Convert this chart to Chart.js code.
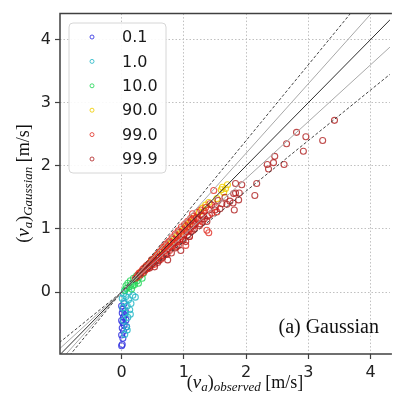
<!DOCTYPE html>
<html><head><meta charset="utf-8">
<script src="https://cdn.jsdelivr.net/npm/chart.js@4/dist/chart.umd.min.js"></script>
<style>html,body{margin:0;padding:0;background:#fff;}#wrap{width:395px;height:398px;}</style>
</head><body><div id="wrap"><canvas id="c" width="395" height="398"></canvas></div>
<script>
// ---- data ----
const seriesLabels = ['0.1', '1.0', '10.0', '90.0', '99.0', '99.9'];
const seriesColors = ['rgba(50,50,225,0.85)', 'rgba(40,185,200,0.85)', 'rgba(40,215,90,0.85)', 'rgba(240,205,0,0.85)', 'rgba(225,45,35,0.8)', 'rgba(175,30,30,0.8)'];

const p01X = [0.00, 0.01, 0.02, 0.00, 0.03, 0.01, 0.04, 0.02, 0.00, 0.03, 0.05, 0.01, 0.06, 0.02, 0.00, 0.04, 0.08, 0.07];
const p01Y = [-0.85, -0.83, -0.73, -0.68, -0.62, -0.57, -0.52, -0.48, -0.45, -0.40, -0.36, -0.33, -0.30, -0.27, -0.22, -0.18, -0.55, -0.44];

const p1X = [0.05, 0.08, 0.03, 0.10, 0.06, 0.13, 0.02, 0.09, 0.15, 0.04, 0.11, 0.01, 0.07, 0.18, 0.03, 0.12, 0.05, 0.22, 0.09, 0.14];
const p1Y = [-0.67, -0.55, -0.45, -0.40, -0.33, -0.28, -0.25, -0.22, -0.18, -0.15, -0.12, -0.10, -0.07, -0.05, -0.03, 0.00, 0.02, -0.08, -0.60, -0.35];

const p10X = [0.05, 0.08, 0.12, 0.15, 0.10, 0.18, 0.20, 0.22, 0.25, 0.14, 0.28, 0.30, 0.24, 0.33, 0.19, 0.07, 0.27, 0.35, 0.16, 0.21];
const p10Y = [0.03, 0.06, 0.08, 0.12, 0.14, 0.10, 0.16, 0.20, 0.18, 0.18, 0.24, 0.27, 0.26, 0.22, 0.22, 0.10, 0.14, 0.30, 0.05, 0.12];

const p90X = [0.30, 0.38, 0.45, 0.55, 0.62, 0.70, 0.80, 0.90, 1.00, 1.10, 1.25, 1.40, 1.53, 1.60, 1.64, 1.70, 0.50, 0.85, 0.40, 0.58, 0.66, 0.75, 0.95, 1.05, 1.15, 1.30, 1.35, 1.62, 1.67];
const p90Y = [0.31, 0.39, 0.46, 0.56, 0.63, 0.71, 0.81, 0.91, 1.01, 1.11, 1.27, 1.42, 1.48, 1.62, 1.58, 1.70, 0.51, 0.86, 0.41, 0.59, 0.67, 0.76, 0.96, 1.06, 1.17, 1.33, 1.38, 1.66, 1.64];

const p99X = [0.25, 0.28, 0.30, 0.32, 0.35, 0.36, 0.38, 0.40, 0.42, 0.44, 0.45, 0.47, 0.50, 0.52, 0.53, 0.55, 0.57, 0.58, 0.60, 0.62, 0.63, 0.65, 0.67, 0.68, 0.70, 0.72, 0.73, 0.75, 0.77, 0.78, 0.80, 0.82, 0.83, 0.85, 0.87, 0.88, 0.90, 0.92, 0.93, 0.95, 0.97, 0.98, 1.00, 1.02, 1.03, 1.05, 1.07, 1.09, 1.10, 1.12, 1.14, 1.15, 1.18, 1.20, 1.22, 1.25, 1.28, 1.30, 1.33, 1.37, 1.40, 1.40, 1.45, 1.48, 1.51, 1.53,
  0.22, 0.26, 0.29, 0.31, 0.34, 0.37, 0.39, 0.41, 0.43, 0.46, 0.48, 0.49, 0.51, 0.54, 0.56, 0.59, 0.61, 0.64, 0.66, 0.69, 0.71, 0.74, 0.76, 0.79, 0.81, 0.84, 0.86, 0.89, 0.91, 0.94, 0.96, 0.99, 1.01, 1.04, 1.06, 1.08, 1.11, 1.13, 1.16, 1.19, 1.21, 1.24, 1.27, 1.31, 1.35, 1.38, 1.42];
const p99Y = [0.24, 0.30, 0.27, 0.33, 0.31, 0.38, 0.35, 0.42, 0.38, 0.45, 0.40, 0.48, 0.46, 0.53, 0.44, 0.55, 0.50, 0.60, 0.54, 0.63, 0.52, 0.66, 0.58, 0.70, 0.62, 0.74, 0.60, 0.72, 0.66, 0.80, 0.70, 0.84, 0.74, 0.78, 0.90, 0.72, 0.82, 0.95, 0.80, 0.88, 1.00, 0.84, 0.92, 1.05, 0.74, 0.95, 1.10, 0.88, 1.00, 1.14, 1.24, 0.98, 1.08, 1.18, 1.15, 1.05, 1.22, 1.11, 1.28, 0.98, 0.94, 1.30, 1.25, 1.61, 1.35, 1.27,
  0.22, 0.27, 0.29, 0.30, 0.36, 0.34, 0.40, 0.37, 0.44, 0.42, 0.51, 0.43, 0.49, 0.50, 0.58, 0.55, 0.64, 0.57, 0.71, 0.65, 0.76, 0.68, 0.80, 0.72, 0.86, 0.77, 0.92, 0.80, 0.97, 0.84, 1.03, 0.90, 1.07, 0.96, 1.12, 1.00, 1.17, 1.05, 1.20, 1.10, 1.26, 1.13, 1.30, 1.22, 1.34, 1.20, 1.40];

const p999X = [0.53, 0.60, 0.74, 0.80, 0.95, 1.03, 1.09, 1.15, 1.22, 1.30, 1.37, 1.45, 1.61, 1.69, 1.79, 1.80, 1.81, 1.83, 1.88, 1.83, 1.89, 1.93, 2.14, 2.17, 2.34, 2.36, 2.44, 2.46, 2.61, 2.65, 2.81, 2.92, 2.96, 3.23, 3.42,
  0.45, 0.58, 0.66, 0.71, 0.86, 0.91, 0.99, 1.06, 1.12, 1.17, 1.26, 1.33, 1.41, 1.50, 1.55, 1.58, 1.66, 1.74];
const p999Y = [0.40, 0.50, 0.51, 0.62, 0.66, 0.80, 0.88, 1.05, 1.15, 1.20, 1.12, 1.38, 1.40, 1.39, 1.41, 1.56, 1.30, 1.72, 1.46, 1.57, 1.57, 1.70, 1.53, 1.72, 2.02, 1.95, 2.05, 2.15, 2.02, 2.35, 2.53, 2.23, 2.46, 2.40, 2.72,
  0.38, 0.47, 0.55, 0.60, 0.70, 0.74, 0.82, 0.90, 0.96, 1.00, 1.08, 1.16, 1.22, 1.30, 1.45, 1.32, 1.50, 1.44];

const seriesX = [p01X, p1X, p10X, p90X, p99X, p999X];
const seriesY = [p01Y, p1Y, p10Y, p90Y, p99Y, p999Y];

const refSlopes = [1.2, 1.1, 1.0, 0.9, 0.8];
const refColors = ['#444444', '#a8a8a8', '#2e2e2e', '#a8a8a8', '#444444'];
const refDashed = [true, false, false, false, true];
const refLineX = [-1.5, 4.6];

const tickValues = [0, 1, 2, 3, 4];

// ---- datasets ----
const datasets = [];
refSlopes.forEach((s, i) => {
  datasets.push({
    type: 'line', label: 'ref' + s,
    data: refLineX.map(x => ({x: x, y: s * x})),
    borderColor: refColors[i], borderWidth: 1,
    borderDash: refDashed[i] ? [3, 2] : [],
    pointRadius: 0, fill: false, order: 0, isRef: true
  });
});
seriesLabels.forEach((lab, i) => {
  datasets.push({
    type: 'scatter', label: lab,
    data: seriesX[i].map((x, j) => ({x: x, y: seriesY[i][j]})),
    borderColor: seriesColors[i], backgroundColor: 'rgba(0,0,0,0)',
    pointRadius: 3, borderWidth: 1.1, order: 10 - i
  });
});

const SANS = 'DejaVu Sans';
const SERIF = 'Liberation Serif';

function measureParts(ctx, parts) {
  let w = 0;
  parts.forEach(p => { ctx.font = p.f; w += ctx.measureText(p.t).width; });
  return w;
}
function renderParts(ctx, parts, x0, y0) {
  let x = x0;
  parts.forEach(p => {
    ctx.font = p.f;
    ctx.fillText(p.t, x, y0 + (p.dy || 0));
    x += ctx.measureText(p.t).width;
  });
}

const decorPlugin = {
  id: 'decor',
  afterDraw(chart) {
    const ctx = chart.ctx;
    const a = chart.chartArea;
    ctx.save();
    // frame
    ctx.strokeStyle = '#404040';
    ctx.lineWidth = 1.5;
    ctx.beginPath();
    ctx.moveTo(a.right + 2, a.top);
    ctx.lineTo(a.left, a.top);
    ctx.lineTo(a.left, a.bottom);
    ctx.lineTo(a.right + 2, a.bottom);
    ctx.stroke();

    // legend
    const lx = 69, ly = 23, lw = 97, lh = 150, r = 4;
    ctx.fillStyle = 'rgba(255,255,255,0.9)';
    ctx.strokeStyle = '#d6d6d6';
    ctx.lineWidth = 1;
    ctx.beginPath();
    ctx.moveTo(lx + r, ly);
    ctx.arcTo(lx + lw, ly, lx + lw, ly + lh, r);
    ctx.arcTo(lx + lw, ly + lh, lx, ly + lh, r);
    ctx.arcTo(lx, ly + lh, lx, ly, r);
    ctx.arcTo(lx, ly, lx + lw, ly, r);
    ctx.closePath();
    ctx.fill();
    ctx.stroke();
    const scat = chart.data.datasets.filter(d => !d.isRef);
    scat.forEach((d, i) => {
      const yy = 37 + i * 24.4;
      ctx.strokeStyle = d.borderColor;
      ctx.lineWidth = 1;
      ctx.beginPath();
      ctx.arc(92, yy, 2, 0, Math.PI * 2);
      ctx.stroke();
      ctx.fillStyle = '#1a1a1a';
      ctx.font = '16px "' + SANS + '"';
      ctx.textAlign = 'left';
      ctx.textBaseline = 'middle';
      ctx.fillText(d.label, 122, yy + 1);
    });

    // annotation
    ctx.fillStyle = '#111';
    ctx.textAlign = 'right';
    ctx.textBaseline = 'alphabetic';
    ctx.font = '20px "' + SERIF + '"';
    ctx.fillText('(a) Gaussian', 379, 333);

    // x title
    ctx.textAlign = 'left';
    const xParts = [
      {t: '(', f: '18px "' + SERIF + '"'},
      {t: 'v', f: 'italic 19px "' + SERIF + '"'},
      {t: 'a', f: 'italic 13px "' + SERIF + '"', dy: 3},
      {t: ')', f: '18px "' + SERIF + '"'},
      {t: 'observed', f: 'italic 13px "' + SERIF + '"', dy: 3},
      {t: ' [m/s]', f: '18px "' + SERIF + '"'}
    ];
    const xw = measureParts(ctx, xParts);
    renderParts(ctx, xParts, 245 - xw / 2, 388);

    // y title
    const yParts = [
      {t: '(', f: '18px "' + SERIF + '"'},
      {t: 'v', f: 'italic 19px "' + SERIF + '"'},
      {t: 'a', f: 'italic 13px "' + SERIF + '"', dy: 3},
      {t: ')', f: '18px "' + SERIF + '"'},
      {t: 'Gaussian', f: 'italic 13px "' + SERIF + '"', dy: 3},
      {t: ' [m/s]', f: '18px "' + SERIF + '"'}
    ];
    const yw = measureParts(ctx, yParts);
    ctx.translate(29, 183.5);
    ctx.rotate(-Math.PI / 2);
    renderParts(ctx, yParts, -yw / 2, 0);
    ctx.restore();
  }
};

new Chart(document.getElementById('c'), {
  type: 'scatter',
  data: {datasets: datasets},
  options: {
    responsive: false, animation: false, devicePixelRatio: 1,
    layout: {padding: {top: 13, right: 0, left: 0, bottom: 0}},
    plugins: {legend: {display: false}, tooltip: {enabled: false}},
    scales: {
      x: {
        type: 'linear', min: -0.99, max: 4.31,
        afterBuildTicks: s => { s.ticks = tickValues.map(v => ({value: v})); },
        afterFit: s => { s.height = 44; },
        ticks: {font: {family: SANS, size: 16}, color: '#222', padding: 4, maxRotation: 0},
        grid: {color: '#c0c0c0', lineWidth: 1, drawTicks: true, tickLength: 5, tickColor: '#404040', tickBorderDash: [], tickWidth: 1.2},
        border: {display: false, dash: [1.5, 2]}
      },
      y: {
        type: 'linear', min: -0.98, max: 4.41,
        afterBuildTicks: s => { s.ticks = tickValues.map(v => ({value: v})); },
        afterFit: s => { s.width = 60; },
        ticks: {font: {family: SANS, size: 16}, color: '#222', padding: 4},
        grid: {color: '#c0c0c0', lineWidth: 1, drawTicks: true, tickLength: 5, tickColor: '#404040', tickBorderDash: [], tickWidth: 1.2},
        border: {display: false, dash: [1.5, 2]}
      }
    }
  },
  plugins: [decorPlugin]
});
</script>
</body></html>
